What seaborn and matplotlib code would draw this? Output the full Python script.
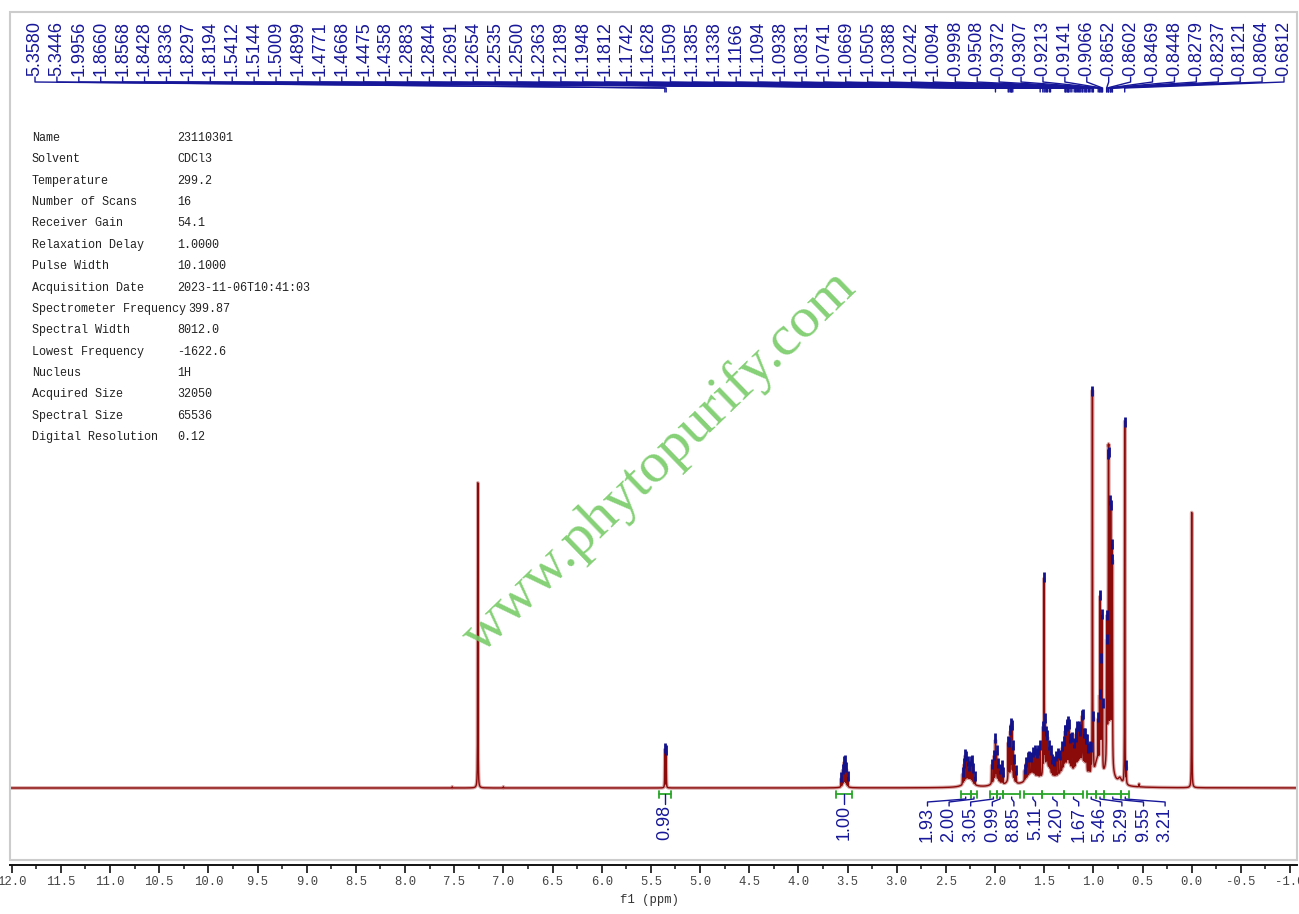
import numpy as np
import pandas as pd
import matplotlib
matplotlib.use("Agg")
import matplotlib.pyplot as plt
import seaborn as sns
from matplotlib.patches import Rectangle
from matplotlib.ticker import MultipleLocator, FormatStrFormatter

# ---------------- DATA ----------------
info_keys = ["Name", "Solvent", "Temperature", "Number of Scans", "Receiver Gain",
             "Relaxation Delay", "Pulse Width", "Acquisition Date",
             "Spectrometer Frequency", "Spectral Width", "Lowest Frequency",
             "Nucleus", "Acquired Size", "Spectral Size", "Digital Resolution"]
info_vals = ["23110301", "CDCl3", "299.2", "16", "54.1", "1.0000", "10.1000",
             "2023-11-06T10:41:03", "399.87", "8012.0", "-1622.6", "1H",
             "32050", "65536", "0.12"]

peak_labels = [5.3580, 5.3446, 1.9956, 1.8660, 1.8568, 1.8428, 1.8336, 1.8297,
               1.8194, 1.5412, 1.5144, 1.5009, 1.4899, 1.4771, 1.4668, 1.4475,
               1.4358, 1.2883, 1.2844, 1.2691, 1.2654, 1.2535, 1.2500, 1.2363,
               1.2189, 1.1948, 1.1812, 1.1742, 1.1628, 1.1509, 1.1385, 1.1338,
               1.1166, 1.1094, 1.0938, 1.0831, 1.0741, 1.0669, 1.0505, 1.0388,
               1.0242, 1.0094, 0.9998, 0.9508, 0.9372, 0.9307, 0.9213, 0.9141,
               0.9066, 0.8652, 0.8602, 0.8469, 0.8448, 0.8279, 0.8237, 0.8121,
               0.8064, 0.6812]

integral_values = ["0.98", "1.00", "1.93", "2.00", "3.05", "0.99", "8.85", "5.11",
                   "4.20", "1.67", "5.46", "5.29", "9.55", "3.21"]
integral_start = [5.414, 3.617, 2.349, 2.248, 2.051, 1.983, 1.916, 1.705,
                  1.525, 1.300, 1.068, 0.976, 0.889, 0.716]
integral_end = [5.298, 3.458, 2.248, 2.180, 1.983, 1.916, 1.746, 1.525,
                1.300, 1.103, 0.976, 0.889, 0.716, 0.635]

# sharp lines: position (ppm) and height (display units)
line_ppm = [7.260, 0.000, 7.52, 7.00,
            5.3580, 5.3446,
            3.565, 3.550, 3.537, 3.524, 3.511, 3.497,
            2.330, 2.318, 2.305, 2.292, 2.280, 2.262, 2.248, 2.235, 2.222, 2.205,
            2.034, 2.012, 1.9956, 1.985, 1.967, 1.950, 1.932, 1.920,
            1.8660, 1.8568, 1.8428, 1.8336, 1.8297, 1.8194, 1.805, 1.785,
            1.700, 1.685, 1.668, 1.650, 1.630, 1.612, 1.595, 1.575, 1.560,
            1.5412, 1.5144, 1.5009, 1.4899, 1.4771, 1.4668, 1.4475, 1.4358,
            1.420, 1.400, 1.380, 1.357, 1.335, 1.315, 1.300, 1.2883, 1.2844,
            1.2691, 1.2654, 1.2535, 1.2500, 1.2363, 1.2189, 1.1948, 1.1812,
            1.1742, 1.1628, 1.1509, 1.1385, 1.1338, 1.1166, 1.1094, 1.0938,
            1.0831, 1.0741, 1.0669, 1.0505, 1.0388, 1.0242,
            1.0094, 0.9998, 0.9508, 0.9372, 0.9307, 0.9213, 0.9141, 0.9066,
            0.8652, 0.8602, 0.8469, 0.8448, 0.8279, 0.8237, 0.8121, 0.8064,
            0.6812, 0.665, 0.535]
line_height = [306, 276, 1.2, 1.2,
               38, 36,
               8, 15, 21, 22, 16, 9,
               10, 18, 26, 22, 16, 11, 18, 20, 13, 7,
               18, 24, 38, 26, 15, 11, 16, 10,
               36, 32, 42, 44, 42, 30, 20, 11,
               10, 15, 18, 17, 14, 20, 23, 22, 26,
               30, 45, 195, 45, 32, 28, 22, 20,
               14, 13, 18, 20, 16, 22, 24, 30, 30,
               34, 32, 36, 34, 26, 30, 24, 28,
               32, 38, 36, 26, 28, 42, 44, 30,
               32, 28, 30, 24, 26, 22,
               385, 45, 40, 60, 165, 100, 150, 60,
               105, 125, 210, 210, 215, 215, 200, 190,
               364, 15, 3]
line_hwhm = 0.0016

# broad envelopes under the multiplets
hump_ppm = [3.53, 2.27, 1.99, 1.84, 1.63, 1.47, 1.27, 1.12, 0.96, 0.84, 0.73]
hump_height = [4, 8, 8, 10, 12, 16, 18, 20, 22, 40, 6]
hump_hwhm = [0.02, 0.045, 0.035, 0.03, 0.06, 0.04, 0.09, 0.05, 0.03, 0.03, 0.02]

# ---------------- GEOMETRY HELPERS ----------------
W, H = 1299, 914
PPM0_PX, PX_PER_PPM, BASE_PX = 1191.7, 98.33, 788.0


def px2ppm(px):
    return (PPM0_PX - px) / PX_PER_PPM


def py2dat(py):
    return BASE_PX - py


# ---------------- SPECTRUM ----------------
x_grid = np.arange(px2ppm(1297), px2ppm(10), 0.0004)
spec = np.zeros_like(x_grid)
for p, h in zip(line_ppm, line_height):
    spec += h / (1 + ((x_grid - p) / line_hwhm) ** 2)
for p, h, w in zip(hump_ppm, hump_height, hump_hwhm):
    spec += h / (1 + ((x_grid - p) / w) ** 2)
df = pd.DataFrame({"ppm": x_grid, "intensity": spec})

# ---------------- FIGURE ----------------
sns.set_style("white")
plt.rcParams["font.family"] = ["Liberation Sans", "DejaVu Sans"]
plt.rcParams["axes.unicode_minus"] = False
MONO = ["Liberation Mono", "DejaVu Sans Mono"]

fig = plt.figure(figsize=(W / 100, H / 100), dpi=100)
ax = fig.add_axes([10 / W, 1 - 860 / H, 1287 / W, 848 / H])
ax.set_facecolor("none")

sns.lineplot(data=df, x="ppm", y="intensity", ax=ax, color="#d8a6a6", lw=2.6,
             estimator=None, sort=False, zorder=2)
sns.lineplot(data=df, x="ppm", y="intensity", ax=ax, color="#8b0a0a", lw=1.0,
             estimator=None, sort=False, zorder=3)

ax.set_xlim(px2ppm(10), px2ppm(1297))
ax.set_ylim(py2dat(860), py2dat(12))

# blue peak-pick marks on the lines of the multiplets
blue = "#17179a"
mark_ppm = [p for p, h in zip(line_ppm, line_height) if 0.6 < p < 5.5 and h > 5]
mark_y = np.interp(mark_ppm, x_grid, spec)
ax.vlines(mark_ppm, mark_y - 3, mark_y + 7, color="#12128c", lw=2.0, zorder=4)

# top peak labels
n = len(peak_labels)
lab_x = [px2ppm(35 + i * (1284 - 35) / (n - 1)) for i in range(n)]
for lx, p in zip(lab_x, peak_labels):
    ax.text(lx, py2dat(76), f"{p:.4f}", rotation=90, ha="center", va="bottom",
            fontsize=13.0, color=blue, zorder=5)
    ax.plot([lx, lx, p, p], [py2dat(77), py2dat(82), py2dat(88), py2dat(92)],
            color=blue, lw=1.0, zorder=5)

# integrals
green = "#2aa62a"
crowd_x = [px2ppm(927.5 + i * 21.6) for i in range(12)]
for k, (a, b, v) in enumerate(zip(integral_start, integral_end, integral_values)):
    c = (a + b) / 2
    ax.plot([a, b], [py2dat(794), py2dat(794)], color=green, lw=1.3, zorder=5)
    ax.plot([a, a], [py2dat(790.5), py2dat(797.5)], color=green, lw=1.3, zorder=5)
    ax.plot([b, b], [py2dat(790.5), py2dat(797.5)], color=green, lw=1.3, zorder=5)
    if k < 2:
        lx = c
        ax.plot([c, c], [py2dat(794), py2dat(804)], color=blue, lw=1.0, zorder=5)
        ty = 805
    else:
        lx = crowd_x[k - 2]
        ax.plot([c, c, lx, lx], [py2dat(797), py2dat(799), py2dat(802), py2dat(806)],
                color=blue, lw=1.0, zorder=5)
        ty = 807
    ax.text(lx, py2dat(ty), v, rotation=90, ha="center", va="top",
            fontsize=13.0, color=blue, zorder=5)

# axes styling
for s in ["left", "right", "top"]:
    ax.spines[s].set_visible(False)
ax.spines["bottom"].set_position(("outward", 3.6))
ax.spines["bottom"].set_color("#111111")
ax.spines["bottom"].set_linewidth(1.4)
ax.set_yticks([])
ax.set_ylabel("")
ax.xaxis.set_major_locator(MultipleLocator(0.5))
ax.xaxis.set_minor_locator(MultipleLocator(0.25))
ax.xaxis.set_major_formatter(FormatStrFormatter("%.1f"))
ax.tick_params(axis="x", which="major", direction="out", length=5.8, width=1.2,
               color="#111111", pad=2, labelsize=8.8, labelcolor="#444444",
               bottom=True)
ax.tick_params(axis="x", which="minor", direction="out", length=3.0, width=1.1,
               color="#111111", bottom=True)
for t in ax.get_xticklabels():
    t.set_family(MONO)
ax.set_xlabel("")
fig.text(650 / W, 1 - 900 / H, "f1 (ppm)", ha="center", va="center",
         fontsize=8.8, color="#333333", family=MONO)

# gray frame
fig.patches.append(Rectangle((10 / W, 1 - 860 / H), 1287 / W, 848 / H,
                             transform=fig.transFigure, fill=False,
                             edgecolor="#cccccc", lw=1.5, zorder=0))

# parameter block
char_px = 7.05
for i, (k, v) in enumerate(zip(info_keys, info_vals)):
    yy = 1 - (138 + i * 21.36) / H
    vx = max(177, 32 + len(k) * char_px + 1)
    fig.text(32 / W, yy, k, ha="left", va="center", fontsize=8.5,
             color="#222222", family=MONO)
    fig.text(vx / W, yy, v, ha="left", va="center", fontsize=8.5,
             color="#222222", family=MONO)

# watermark
fig.text(660 / W, 1 - 462 / H, "www.phytopurify.com", rotation=44,
         rotation_mode="anchor", ha="center", va="center", fontsize=42,
         color="#78cc68", alpha=0.9, family=["Liberation Serif", "DejaVu Serif"])

fig.savefig("out.png", dpi=100)
